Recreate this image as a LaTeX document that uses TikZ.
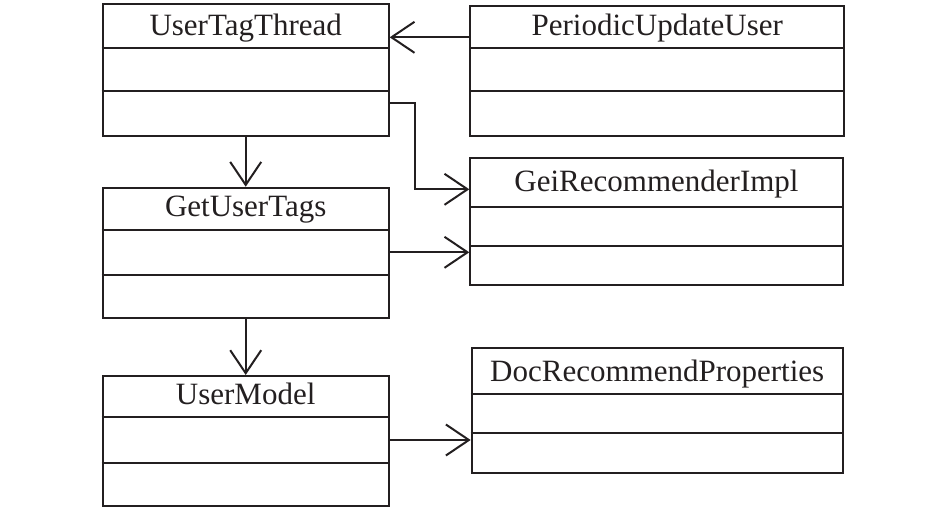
\documentclass[tikz,border=0pt]{standalone}
\usepackage{fontspec}
\setmainfont{Liberation Serif}
\usetikzlibrary{arrows.meta}
\definecolor{ink}{RGB}{35,31,32}
\tikzset{
  cls/.style={draw=ink, line width=2pt, inner sep=0pt, anchor=north west},
  ttl/.style={font=\fontsize{31}{31}\selectfont, text=ink, anchor=base, inner sep=0pt},
  div/.style={draw=ink, line width=2pt},
  conn/.style={draw=ink, line width=1.8pt, -{Straight Barb[length=23pt,width=31pt,line width=2pt]}},
}
\begin{document}
\begin{tikzpicture}[x=1pt,y=-1pt]
\useasboundingbox (0,0) rectangle (946,508);
% class boxes
\node[cls, minimum width=286pt, minimum height=131.4pt] (utt) at (101.7,3.3) {};
\node[cls, minimum width=374pt, minimum height=129.7pt] (puu) at (469.3,5) {};
\node[cls, minimum width=286pt, minimum height=130.6pt] (gut) at (101.7,186.7) {};
\node[cls, minimum width=372.4pt, minimum height=127pt] (gri) at (469.3,157.3) {};
\node[cls, minimum width=286pt, minimum height=130pt] (um) at (101.7,375) {};
\node[cls, minimum width=371pt, minimum height=124.4pt] (drp) at (470.7,347.3) {};
% dividers
\draw[div] (utt.west |- 0,48.3) -- (utt.east |- 0,48.3);
\draw[div] (utt.west |- 0,91) -- (utt.east |- 0,91);
\draw[div] (puu.west |- 0,48.3) -- (puu.east |- 0,48.3);
\draw[div] (puu.west |- 0,91) -- (puu.east |- 0,91);
\draw[div] (gut.west |- 0,230) -- (gut.east |- 0,230);
\draw[div] (gut.west |- 0,275.3) -- (gut.east |- 0,275.3);
\draw[div] (gri.west |- 0,207.3) -- (gri.east |- 0,207.3);
\draw[div] (gri.west |- 0,246) -- (gri.east |- 0,246);
\draw[div] (um.west |- 0,417.3) -- (um.east |- 0,417.3);
\draw[div] (um.west |- 0,462.7) -- (um.east |- 0,462.7);
\draw[div] (drp.west |- 0,394.3) -- (drp.east |- 0,394.3);
\draw[div] (drp.west |- 0,433.3) -- (drp.east |- 0,433.3);
% titles
\node[ttl] (utt-t) at (utt.north |- 0,36) {UserTagThread};
\node[ttl] (puu-t) at (puu.north |- 0,36) {PeriodicUpdateUser};
\node[ttl] (gut-t) at (gut.north |- 0,216.5) {GetUserTags};
\node[ttl] (gri-t) at (gri.north |- 0,191.5) {GeiRecommenderImpl};
\node[ttl] (um-t) at (um.north |- 0,404) {UserModel};
\node[ttl] (drp-t) at (drp.north |- 0,381) {DocRecommendProperties};
% connectors
\draw[conn] (puu.west |- 0,37.3) -- (utt.east |- 0,37.3);
\draw[conn] (utt.south) -- (gut.north);
\draw[conn] (gut.south) -- (um.north);
\coordinate (k1) at (415,103.3);
\coordinate (k2) at (415,189.3);
\draw[conn] (utt.east |- k1) -- (k1) -- (k2) -- (gri.west |- k2);
\draw[conn] (gut.east |- 0,252.3) -- (gri.west |- 0,252.3);
\draw[conn] (um.east |- 0,440) -- (drp.west |- 0,440);
\end{tikzpicture}
\end{document}
